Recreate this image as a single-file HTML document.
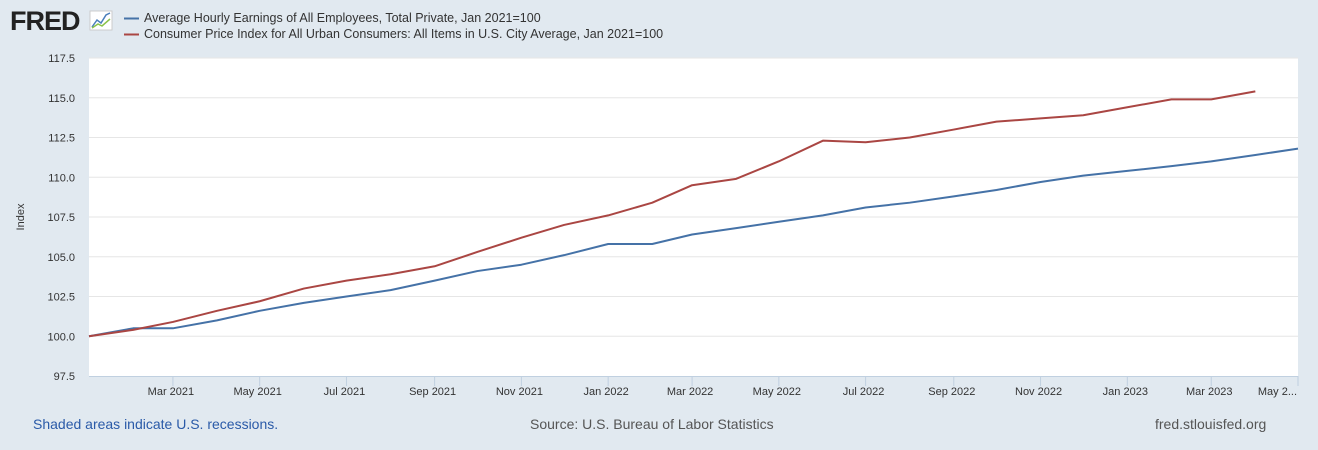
<!DOCTYPE html>
<html><head><meta charset="utf-8"><style>
body{margin:0;background:#e1e9f0;font-family:"Liberation Sans",sans-serif;}
svg{display:block}
</style></head><body>
<svg id="c" width="1318" height="450">
<rect x="0" y="0" width="1318" height="450" fill="#e1e9f0"/>
<text x="10" y="30" font-size="27" font-weight="bold" fill="#222" letter-spacing="-1">FRED</text>
<g><rect x="90" y="11" width="22" height="19" fill="#fff" stroke="#ccc"/><polyline points="92,27 97,20 101,23 106,15 110,13" fill="none" stroke="#4a7ebb" stroke-width="1.5"/><polyline points="92,28 98,24 102,26 110,19" fill="none" stroke="#8bc34a" stroke-width="1.5"/></g>
<g><line x1="124" y1="18.5" x2="139" y2="18.5" stroke="#4572a7" stroke-width="2"/><text x="144" y="22" font-size="12.5" fill="#333">Average Hourly Earnings of All Employees, Total Private, Jan 2021=100</text></g>
<g><line x1="124" y1="34.5" x2="139" y2="34.5" stroke="#aa4643" stroke-width="2"/><text x="144" y="38" font-size="12.5" fill="#333">Consumer Price Index for All Urban Consumers: All Items in U.S. City Average, Jan 2021=100</text></g>
<rect x="89" y="58" width="1209" height="318" fill="#fff"/>
<g id="grid"></g><g id="xt"></g><g id="series"></g>
<text x="24" y="217" font-size="11" fill="#333" transform="rotate(-90 24 217)" text-anchor="middle">Index</text>
<text x="33" y="429" font-size="14" fill="#2a5aa8">Shaded areas indicate U.S. recessions.</text>
<text x="530" y="429" font-size="14" fill="#555">Source: U.S. Bureau of Labor Statistics</text>
<text x="1155" y="429" font-size="14" fill="#555">fred.stlouisfed.org</text>
</svg>
<script>
const yTicks=[97.5,100,102.5,105,107.5,110,112.5,115,117.5];
const xTickLabels=["Mar 2021","May 2021","Jul 2021","Sep 2021","Nov 2021","Jan 2022","Mar 2022","May 2022","Jul 2022","Sep 2022","Nov 2022","Jan 2023","Mar 2023","May 2..."];
const xTickDates=["2021-03-01","2021-05-01","2021-07-01","2021-09-01","2021-11-01","2022-01-01","2022-03-01","2022-05-01","2022-07-01","2022-09-01","2022-11-01","2023-01-01","2023-03-01","2023-05-01"];
const earnings=[100,100.5,100.5,101.0,101.6,102.1,102.5,102.9,103.5,104.1,104.5,105.1,105.8,105.8,106.4,106.8,107.2,107.6,108.1,108.4,108.8,109.2,109.7,110.1,110.4,110.7,111.0,111.4,111.8];
const cpi=[100,100.4,100.9,101.6,102.2,103.0,103.5,103.9,104.4,105.3,106.2,107.0,107.6,108.4,109.5,109.9,111.0,112.3,112.2,112.5,113.0,113.5,113.7,113.9,114.4,114.9,114.9,115.4];
const NS="http://www.w3.org/2000/svg";
const t0=Date.UTC(2021,0,1), t1=Date.UTC(2023,4,1);
function xd(ms){return 89+(ms-t0)/(t1-t0)*1209;}
function xm(i){return xd(Date.UTC(2021,i,1));}
function y(v){return 376-(v-97.5)/20*318;}
function mk(tag,attrs,parent,text){const e=document.createElementNS(NS,tag);for(const k in attrs)e.setAttribute(k,attrs[k]);if(text!=null)e.textContent=text;parent.appendChild(e);return e;}
const grid=document.getElementById('grid');
yTicks.forEach(v=>{
  if(v>97.5){const l=mk('line',{x1:89,x2:1298,y1:y(v),y2:y(v),stroke:'#e6e6e6'},grid);
  
  }
  const t=mk('text',{x:75,y:y(v)+4,'font-size':11,fill:'#333','text-anchor':'end'},grid,v.toFixed(1));
  
  
});
const xt=document.getElementById('xt');
mk('line',{x1:89,x2:1298,y1:376.5,y2:376.5,stroke:'#c0d0e0'},xt);
xTickDates.forEach((d,i)=>{
  const p=d.split('-');const x=xd(Date.UTC(+p[0],+p[1]-1,1));
  mk('line',{x1:x,x2:x,y1:376,y2:386,stroke:'#c0d0e0'},xt);
  const last=i===xTickDates.length-1;
  const t=mk('text',{x:last?1297:x-2,y:395,'font-size':11,fill:'#333','text-anchor':last?'end':'middle'},xt,xTickLabels[i]);
  
  
});
const s=document.getElementById('series');
function line(arr,col,name){
  const p=mk('polyline',{points:arr.map((v,i)=>xm(i)+','+y(v)).join(' '),fill:'none',stroke:col,'stroke-width':2,'stroke-linejoin':'round'},s);
  
  
}
line(earnings,'#4572a7','earnings-line');
line(cpi,'#aa4643','cpi-line');
</script>
</body></html>
